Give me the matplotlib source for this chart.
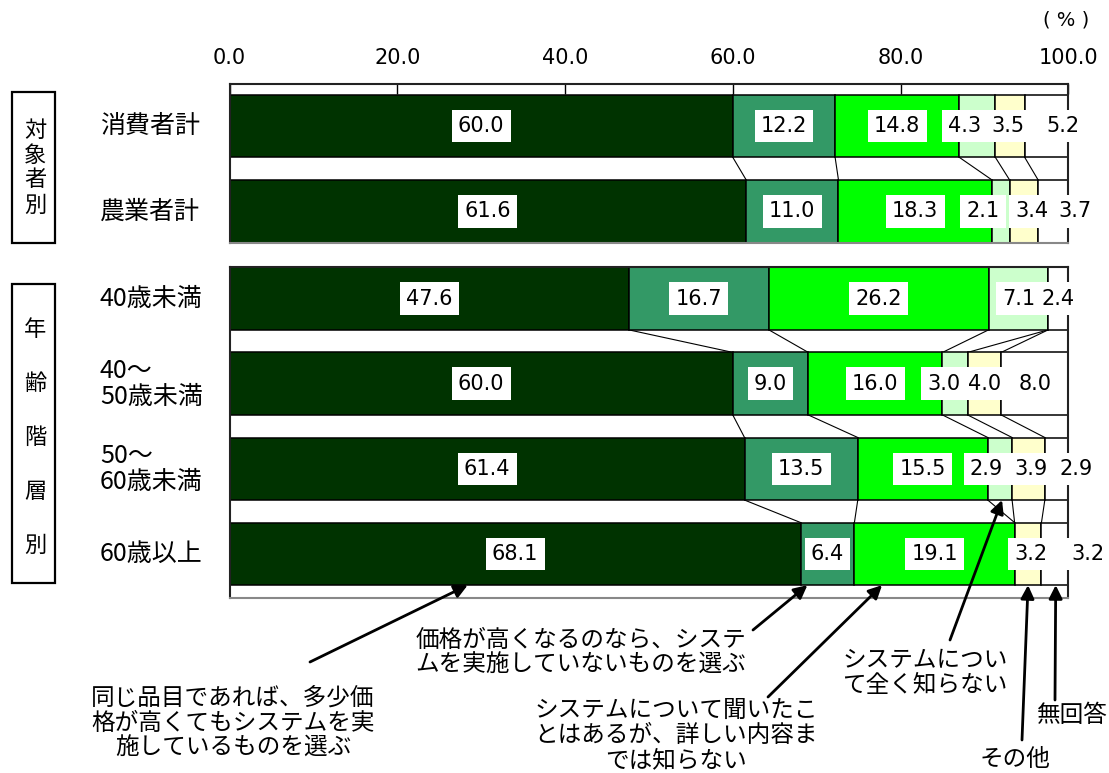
import matplotlib
matplotlib.use("Agg")
import matplotlib.pyplot as plt
from matplotlib.patches import Rectangle
from matplotlib.transforms import blended_transform_factory
import numpy as np

plt.rcParams["font.family"] = ["Noto Sans CJK JP", "DejaVu Sans"]

# Data (%)
categories = ["消費者計", "農業者計", "40歳未満", "40～\n50歳未満", "50～\n60歳未満", "60歳以上"]
choose_anyway = [60.0, 61.6, 47.6, 60.0, 61.4, 68.1]   # 同じ品目であれば…実施しているものを選ぶ
choose_cheaper = [12.2, 11.0, 16.7, 9.0, 13.5, 6.4]   # 価格が高くなるのなら…実施していないものを選ぶ
heard_only = [14.8, 18.3, 26.2, 16.0, 15.5, 19.1]     # 聞いたことはあるが…
never_heard = [4.3, 2.1, 7.1, 3.0, 2.9, 0.0]          # 全く知らない
other = [3.5, 3.4, 0.0, 4.0, 3.9, 3.2]                # その他
no_answer = [5.2, 3.7, 2.4, 8.0, 2.9, 3.2]            # 無回答
ticks = [0, 20, 40, 60, 80, 100]

series = [choose_anyway, choose_cheaper, heard_only, never_heard, other, no_answer]
colors = ["#003300", "#339966", "#00FF00", "#CCFFCC", "#FFFFCC", "#FFFFFF"]

# label nudges (in %), so small segments don't collide
nudge = [
    [0, 0, 0, -1.5, -0.2, 2.0],
    [0, 0, 0, -2.1, 1.0, 2.6],
    [0, 0, 0, 0, 0, 0],
    [0, 0, 0, -1.3, 0, 0],
    [0, 0, 0, -1.6, 0.3, 2.3],
    [0, 0, 0, 0, 0.3, 3.9],
]

W, H = 1109, 773
fig = plt.figure(figsize=(W / 100, H / 100), dpi=100)


def fp(x, y):
    return x / W, 1 - y / H


bar_h = 0.735
ax1 = fig.add_axes([229.5 / W, 1 - 242.7 / H, 838.8 / W, 159.2 / H])
ax2 = fig.add_axes([229.5 / W, 1 - 598.3 / H, 838.8 / W, 331.0 / H])
ax1.set_ylim(1 + bar_h / 2, 1 + bar_h / 2 - 159.2 / 85.4)
ax2.set_ylim(-bar_h / 2 + 331.0 / 85.1, -bar_h / 2)

rows = [(ax1, [0, 1]), (ax2, [2, 3, 4, 5])]
cum = np.cumsum(np.array(series).T, axis=1)
cum = np.hstack([np.zeros((len(categories), 1)), cum])

for ax, idx in rows:
    ax.set_xlim(0, 100)
    for pos, i in enumerate(idx):
        for k, s in enumerate(series):
            ax.barh(pos, s[i], left=cum[i][k], height=bar_h, color=colors[k],
                    edgecolor="black", linewidth=1.1, zorder=2)
            if s[i] > 0:
                ax.text(cum[i][k] + s[i] / 2 + nudge[i][k], pos, f"{s[i]:.1f}",
                        ha="center", va="center", fontsize=15, family="DejaVu Sans",
                        bbox=dict(boxstyle="square,pad=0.3", fc="white", ec="none"),
                        zorder=5, clip_on=False)
        # category label
        tr = blended_transform_factory(fig.transFigure, ax.transData)
        ax.text(100 / W, pos, categories[i], transform=tr, ha="left", va="center",
                fontsize=18, linespacing=1.0)
    # connector lines between neighbouring bars
    for pos in range(len(idx) - 1):
        a, b = idx[pos], idx[pos + 1]
        for k in range(1, len(series)):
            ax.plot([cum[a][k], cum[b][k]], [pos + bar_h / 2, pos + 1 - bar_h / 2],
                    color="black", lw=0.8, zorder=1)
    ax.set_yticks([])
    for side in ["left", "right", "top"]:
        ax.spines[side].set_color("#222222")
        ax.spines[side].set_linewidth(1.5)
    ax.spines["bottom"].set_color("#888888")
    ax.spines["bottom"].set_linewidth(1.5)

ax1.xaxis.tick_top()
ax1.set_xticks(ticks)
ax1.set_xticklabels([f"{t:.1f}" for t in ticks])
ax1.tick_params(axis="x", direction="in", length=7, width=1, pad=11, labelsize=15)
for lab in ax1.get_xticklabels():
    lab.set_family("DejaVu Sans")
ax2.set_xticks([])

fig.text(*fp(1066, 20), "( % )", ha="center", va="center", fontsize=14, family="DejaVu Sans")

# group boxes on the left
fig.add_artist(Rectangle(fp(11.7, 243.3), 43.3 / W, 151 / H, transform=fig.transFigure,
                         fill=False, ec="black", lw=1.6))
fig.add_artist(Rectangle(fp(11.7, 583.3), 43.3 / W, 299.3 / H, transform=fig.transFigure,
                         fill=False, ec="black", lw=1.6))
for j, ch in enumerate("対象者別"):
    fig.text(*fp(35, 130 + j * 25), ch, ha="center", va="center", fontsize=16)
for j, ch in enumerate("年齢階層別"):
    fig.text(*fp(35, 330 + j * 53.75), ch, ha="center", va="center", fontsize=16)

# callouts
notes = [
    ("同じ品目であれば、多少価\n格が高くてもシステムを実\n施しているものを選ぶ", (233, 723), (310, 662), 28.4, 3),
    ("価格が高くなるのなら、システ\nムを実施していないものを選ぶ", (581, 653), (753, 630), 68.9, 3),
    ("システムについて聞いたこ\nとはあるが、詳しい内容ま\nでは知らない", (676, 736), (768, 697), 77.8, 3),
    ("システムについ\nて全く知らない", (925, 673), (950, 640), 92.1, 2),
    ("その他", (1015, 759), (1022, 740), 95.2, 3),
    ("無回答", (1072, 716), (1055, 700), 98.5, 3),
]
for txt, (tx, ty), tail, tip_x, row in notes:
    fig.text(*fp(tx, ty), txt, ha="center", va="center", fontsize=17,
             multialignment="center", linespacing=1.12)
    ax2.annotate("", xy=(tip_x, row + bar_h / 2), xycoords="data",
                 xytext=fp(*tail), textcoords="figure fraction",
                 arrowprops=dict(arrowstyle="-|>", color="black", lw=2,
                                 mutation_scale=20, shrinkA=0, shrinkB=0),
                 annotation_clip=False, zorder=6)

fig.savefig("out.png", dpi=100)
